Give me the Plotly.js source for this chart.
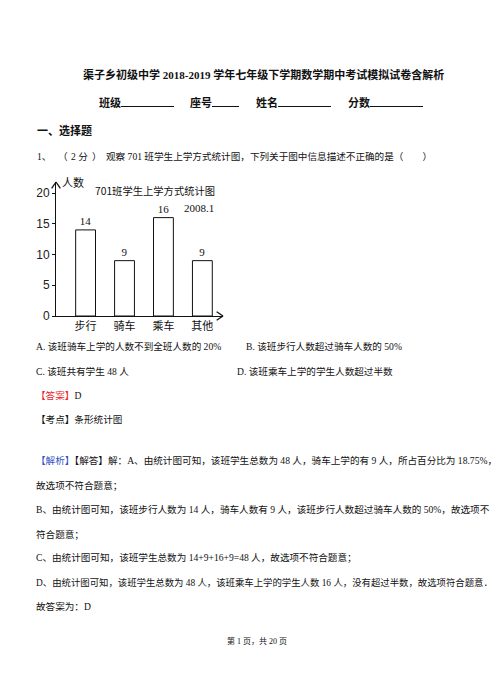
<!DOCTYPE html>
<html>
<head>
<meta charset="utf-8">
<script src="https://cdn.plot.ly/plotly-3.0.1.min.js"></script>
<style>
  html, body { margin: 0; padding: 0; background: #fff; }
  body { width: 502px; height: 694px; position: relative; overflow: hidden;
         font-family: "Liberation Serif", "Noto Sans CJK SC", serif; color: #111; }
  .ln { position: absolute; white-space: nowrap; line-height: 14px; font-size: 9.6px; }
  .b { font-weight: bold; font-size: 11px; }
  .u { display: inline-block; border-bottom: 1px solid #111; height: 10px; vertical-align: baseline; }
  .red { color: #e8262a; }
  .blue { color: #2f4fc4; }
  #chart { position: absolute; left: 20px; top: 170px; width: 210px; height: 175px; }
</style>
</head>
<body>
<div class="ln b" style="left:83px;top:68px;">渠子乡初级中学 2018-2019 学年七年级下学期数学期中考试模拟试卷含解析</div>
<div class="ln b" style="left:99px;top:96px;">班级<span class="u" style="width:53px"></span></div>
<div class="ln b" style="left:190px;top:96px;">座号<span class="u" style="width:27px"></span></div>
<div class="ln b" style="left:256px;top:96px;">姓名<span class="u" style="width:53px"></span></div>
<div class="ln b" style="left:348px;top:96px;">分数<span class="u" style="width:53px"></span></div>
<div class="ln b" style="left:37px;top:124px;">一、选择题</div>
<div class="ln" style="left:37px;top:150px;">1、</div>
<div class="ln" style="left:58px;top:150px;">（</div>
<div class="ln" style="left:71px;top:150px;">2 分</div>
<div class="ln" style="left:92px;top:150px;">）</div>
<div class="ln" style="left:106px;top:150px;">观察 701 班学生上学方式统计图，下列关于图中信息描述不正确的是（　　）</div>

<div id="chart"></div>

<div class="ln" style="left:36px;top:340px;">A. 该班骑车上学的人数不到全班人数的 20%</div>
<div class="ln" style="left:246px;top:340px;">B. 该班步行人数超过骑车人数的 50%</div>
<div class="ln" style="left:36px;top:365px;">C. 该班共有学生 48 人</div>
<div class="ln" style="left:237px;top:365px;">D. 该班乘车上学的学生人数超过半数</div>
<div class="ln" style="left:36px;top:389px;"><span class="red">【答案】</span>D</div>
<div class="ln" style="left:36px;top:413px;">【考点】条形统计图</div>
<div class="ln" style="left:36px;top:454px;"><span class="blue">【解析】</span>【解答】解：A、由统计图可知，该班学生总数为 48 人，骑车上学的有 9 人，所占百分比为 18.75%，</div>
<div class="ln" style="left:36px;top:479px;">故选项不符合题意；</div>
<div class="ln" style="left:36px;top:503px;">B、由统计图可知，该班步行人数为 14 人，骑车人数有 9 人，该班步行人数超过骑车人数的 50%，故选项不</div>
<div class="ln" style="left:36px;top:528px;">符合题意；</div>
<div class="ln" style="left:36px;top:551px;">C、由统计图可知，该班学生总数为 14+9+16+9=48 人，故选项不符合题意；</div>
<div class="ln" style="left:36px;top:576px;font-size:9.4px;">D、由统计图可知，该班学生总数为 48 人，该班乘车上学的学生人数 16 人，没有超过半数，故选项符合题意．</div>
<div class="ln" style="left:36px;top:600px;">故答案为：D</div>
<div class="ln" style="left:227px;top:635px;font-size:8px;">第 1 页，共 20 页</div>

<script>
const categories = ["步行", "骑车", "乘车", "其他"];
const counts = [14, 9, 16, 9];
const yTicks = [0, 5, 10, 15, 20];
const chartTitle = "701班学生上学方式统计图";
const dateNote = "2008.1";
const yLabel = "人数";

const serif = "Liberation Serif, Noto Sans CJK SC, serif";
const cjk = "Noto Sans CJK SC, sans-serif";

// one stroke of an open arrowhead on an axis end
function stroke(x0, y0, x1, y1) {
  return { type: "line", xref: "paper", yref: "paper", layer: "above",
           x0: x0, y0: y0, x1: x1, y1: y1, line: { color: "#111", width: 1.3 } };
}

Plotly.newPlot("chart", [{
  type: "bar",
  x: categories,
  y: counts,
  text: counts.map(String),
  textposition: "outside",
  cliponaxis: false,
  textfont: { family: serif, size: 11, color: "#111" },
  marker: { color: "#fff", line: { color: "#111", width: 1 } },
  hoverinfo: "none"
}], {
  width: 210,
  height: 175,
  margin: { l: 36, r: 7, t: 12, b: 29 },
  paper_bgcolor: "rgba(0,0,0,0)",
  plot_bgcolor: "rgba(0,0,0,0)",
  bargap: 0.49,
  showlegend: false,
  title: {
    text: chartTitle,
    font: { family: cjk, size: 10.3, color: "#111" },
    xref: "container", yref: "container",
    x: 0.643, y: 0.875, xanchor: "center", yanchor: "middle"
  },
  xaxis: {
    type: "category",
    range: [-0.76, 3.53],
    showline: true, linecolor: "#111", linewidth: 1,
    ticks: "", showgrid: false, zeroline: false,
    tickfont: { family: cjk, size: 11, color: "#111" }
  },
  yaxis: {
    range: [0, 21.79],
    tickvals: yTicks,
    showline: true, linecolor: "#111", linewidth: 1,
    ticks: "outside", ticklen: 3, tickcolor: "#111",
    showgrid: false, zeroline: false,
    tickfont: { family: "Liberation Sans, sans-serif", size: 12, color: "#222" }
  },
  annotations: [
    { xref: "paper", yref: "paper", x: 0.024, y: 1.0, xanchor: "left", yanchor: "middle",
      text: yLabel, showarrow: false, font: { family: cjk, size: 11, color: "#111" } },
    { xref: "paper", yref: "paper", x: 0.856, y: 0.806, xanchor: "center", yanchor: "middle",
      text: dateNote, showarrow: false, font: { family: serif, size: 11, color: "#111" } }
  ],
  shapes: [
    stroke(-0.026, 0.953, 0, 1), stroke(0, 1, 0.026, 0.953),
    stroke(0.962, 0.032, 1, 0), stroke(1, 0, 0.962, -0.032)
  ]
}, { staticPlot: true, displayModeBar: false });
</script>
</body>
</html>
